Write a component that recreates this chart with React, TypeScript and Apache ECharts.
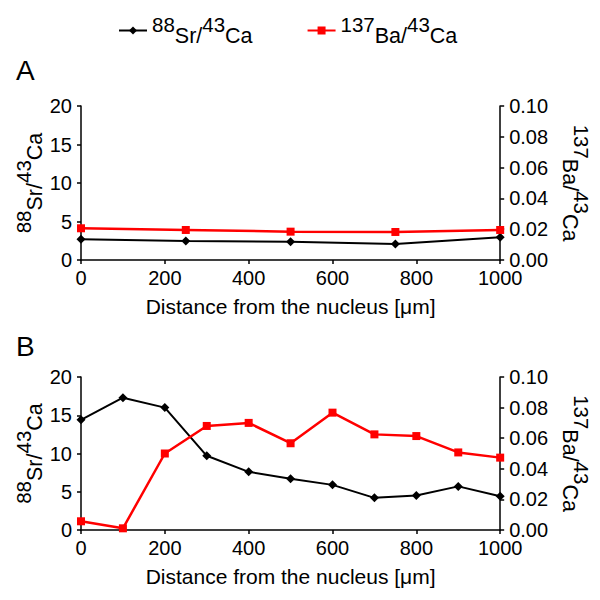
import React, { useEffect, useRef } from "react";
import * as echarts from "echarts";

const xA = [0, 250, 500, 750, 1000];
const srA = [2.68, 2.47, 2.38, 2.08, 2.94];
const baA = [0.0206, 0.0195, 0.0184, 0.0182, 0.0195];

const xB = [0, 100, 200, 300, 400, 500, 600, 700, 800, 900, 1000];
const srB = [14.4, 17.3, 16.0, 9.7, 7.6, 6.7, 5.9, 4.2, 4.5, 5.7, 4.4];
const baB = [0.0057, 0.0011, 0.05, 0.068, 0.07, 0.0567, 0.0767, 0.0625, 0.0614, 0.0507, 0.0473];

const xTitle = "Distance from the nucleus [μm]";
const srName = "{sup|88}{n|Sr/}{sup|43}{n|Ca}";
const baName = "{sup|137}{n|Ba/}{sup|43}{n|Ca}";

const FONT = "Liberation Sans, Arial, sans-serif";

const rich = {
  n: { fontSize: 21.5, fontFamily: FONT, color: "#000", verticalAlign: "bottom", lineHeight: 33 },
  sup: { fontSize: 20.5, fontFamily: FONT, color: "#000", verticalAlign: "top", lineHeight: 33 },
};

const pairs = (xs: number[], ys: number[]) => xs.map((x, i) => [x, ys[i]]);

export default function App() {
  const ref = useRef<HTMLDivElement>(null);
  useEffect(() => {
    if (!ref.current) return;
    const chart = echarts.init(ref.current, null, { renderer: "svg" });
    const axisLine = { show: true, lineStyle: { color: "#000", width: 1.5 } };
    const axisTick = { show: true, length: 4, inside: false, lineStyle: { color: "#000", width: 1.5 } };
    const axisLabel = { color: "#000", fontSize: 20, fontFamily: FONT, margin: 8 };
    const xAxisBase = (gi: number) => ({
      type: "value",
      gridIndex: gi,
      min: 0,
      max: 1000,
      interval: 200,
      axisLine,
      axisTick,
      axisLabel: { ...axisLabel, formatter: (v: number) => String(v) },
      splitLine: { show: false },
      name: xTitle,
      nameLocation: "middle",
      nameGap: 36,
      nameTextStyle: { color: "#000", fontSize: 21, fontFamily: FONT },
    });
    const leftY = (gi: number) => ({
      type: "value",
      gridIndex: gi,
      position: "left",
      min: 0,
      max: 20,
      interval: 5,
      axisLine,
      axisTick,
      axisLabel: { ...axisLabel, margin: 9 },
      splitLine: { show: false },
      name: srName,
      nameLocation: "middle",
      nameRotate: 90,
      nameGap: 35,
      nameMoveOverlap: false,
      nameTextStyle: { rich },
    });
    const rightY = (gi: number) => ({
      type: "value",
      gridIndex: gi,
      position: "right",
      min: 0,
      max: 0.1,
      interval: 0.02,
      axisLine,
      axisTick,
      axisLabel: { ...axisLabel, margin: 9, formatter: (v: number) => v.toFixed(2) },
      splitLine: { show: false },
      name: baName,
      nameLocation: "middle",
      nameRotate: -90,
      nameGap: 56,
      nameTextStyle: { rich },
    });
    const sr = (xi: number, yi: number, data: number[][]) => ({
      name: "Sr",
      type: "line",
      xAxisIndex: xi,
      yAxisIndex: yi,
      data,
      symbol: "diamond",
      symbolSize: 9,
      lineStyle: { color: "#000", width: 2 },
      itemStyle: { color: "#000" },
    });
    const ba = (xi: number, yi: number, data: number[][]) => ({
      name: "Ba",
      type: "line",
      xAxisIndex: xi,
      yAxisIndex: yi,
      data,
      symbol: "rect",
      symbolSize: 8,
      lineStyle: { color: "#ff0000", width: 2.5 },
      itemStyle: { color: "#ff0000" },
    });
    chart.setOption({
      animation: false,
      legend: {
        top: 9,
        left: 113,
        itemGap: 54,
        itemWidth: 28,
        itemHeight: 10,
        data: ["Sr", "Ba"],
        formatter: (name: string) => (name === "Sr" ? srName : baName),
        textStyle: { rich },
      },
      graphic: [
        { type: "text", left: 16, top: 56, style: { text: "A", fontSize: 28, fontFamily: FONT, fill: "#000" } },
        { type: "text", left: 16, top: 332, style: { text: "B", fontSize: 28, fontFamily: FONT, fill: "#000" } },
      ],
      grid: [
        { left: 81, right: 98, top: 106, height: 154 },
        { left: 81, right: 98, top: 377, height: 153 },
      ],
      xAxis: [xAxisBase(0), xAxisBase(1)],
      yAxis: [leftY(0), rightY(0), leftY(1), rightY(1)],
      series: [
        sr(0, 0, pairs(xA, srA)),
        ba(0, 1, pairs(xA, baA)),
        sr(1, 2, pairs(xB, srB)),
        ba(1, 3, pairs(xB, baB)),
      ],
    });
    return () => chart.dispose();
  }, []);
  return <div ref={ref} style={{ width: 600, height: 600, position: "absolute", left: 0, top: 0 }} />;
}
